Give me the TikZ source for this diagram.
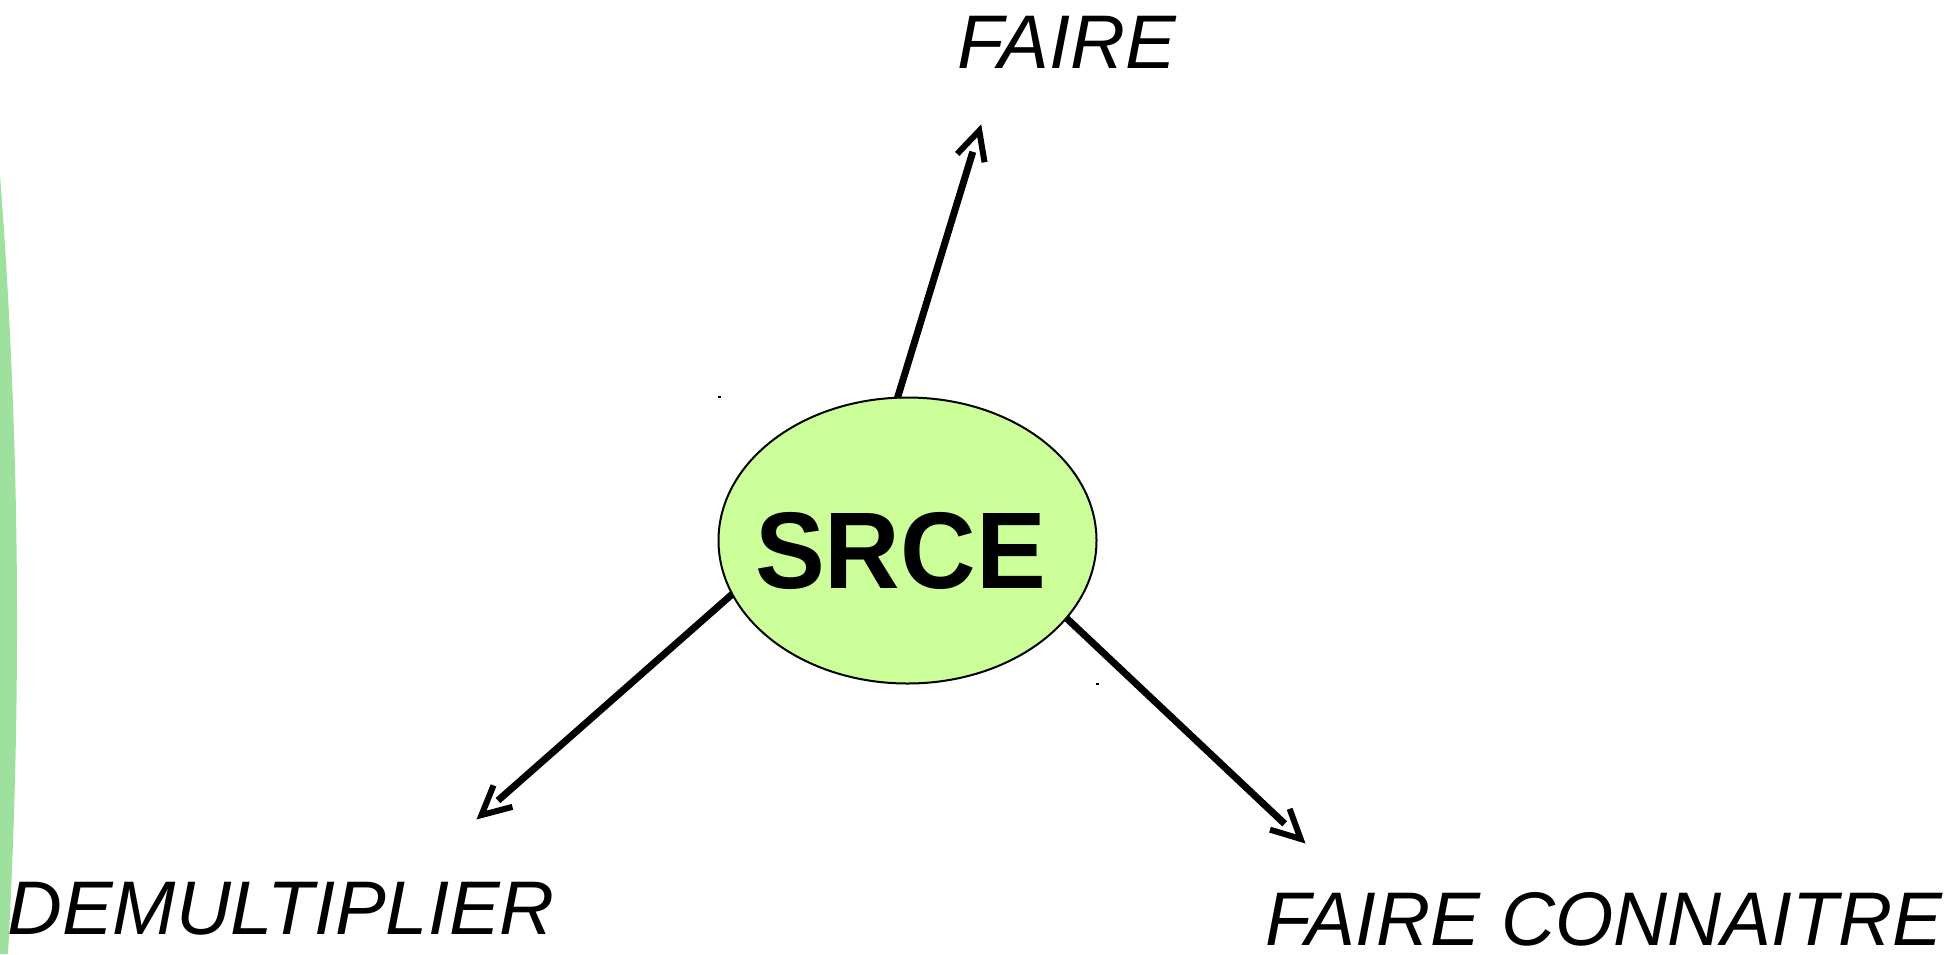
\documentclass[tikz,border=0pt]{standalone}
\usepackage{fontspec}
\usepackage{graphicx}
\setmainfont{Liberation Sans}
\usetikzlibrary{calc,shapes.geometric}
\definecolor{ellfill}{RGB}{204,255,153}
\definecolor{arcgreen}{RGB}{158,224,158}
\begin{document}
\begin{tikzpicture}[x=1pt,y=-1pt,
  conn/.style={line width=7pt, shorten >=28pt},
  barb/.style={line width=6pt, miter limit=10},
  lbl/.style={font=\fontsize{76}{80}\selectfont\itshape, inner sep=0pt, outer sep=0pt}]
\useasboundingbox (0,0) rectangle (1954,954);
% green arc at the left edge
\fill[arcgreen] (0,175) .. controls (20,436) and (22,695) .. (8,954) -- (0,954) -- cycle;
% central ellipse
\node[ellipse, draw, line width=2pt, fill=ellfill, minimum width=378pt, minimum height=286pt,
      inner sep=0pt, outer sep=0pt] (srce) at (907.5,540.5) {};
\node[font=\fontsize{109}{120}\selectfont\bfseries, inner sep=0pt] (srcetxt) at (900.5,551) {\scalebox{0.96}[1]{SRCE}};
% tiny handle dots
\fill (718,396) rectangle (721,398);
\fill (1096,683) rectangle (1099,685);
% labels
\node[lbl] (faire) at (1067,42) {FAIRE};
\node[lbl] (demul) at (281,909) {DEMULTIPLIER};
\node[lbl] (fconn) at (1604,919) {\scalebox{0.985}[1]{FAIRE CONNAITRE}};
% arrow tips
\coordinate (tF) at (981,125);
\coordinate (tD) at (477,819);
\coordinate (tC) at (1305,843);
% connectors
\draw[conn] (srce.94) -- (tF);
\draw[conn] (srce.197) -- (tD);
\draw[conn] (srce.334) -- (tC);
% open arrowheads
\coordinate (hF) at ($(tF)!6pt!(srce.94)$);
\coordinate (hD) at ($(tD)!6pt!(srce.197)$);
\coordinate (hC) at ($(tC)!6pt!(srce.334)$);
\draw[barb] ($(hF)!32pt!26.57:(srce.94)$) -- (hF) -- ($(hF)!32pt!-26.57:(srce.94)$);
\draw[barb] ($(hD)!32pt!26.57:(srce.197)$) -- (hD) -- ($(hD)!32pt!-26.57:(srce.197)$);
\draw[barb] ($(hC)!32pt!26.57:(srce.334)$) -- (hC) -- ($(hC)!32pt!-26.57:(srce.334)$);
\end{tikzpicture}
\end{document}
